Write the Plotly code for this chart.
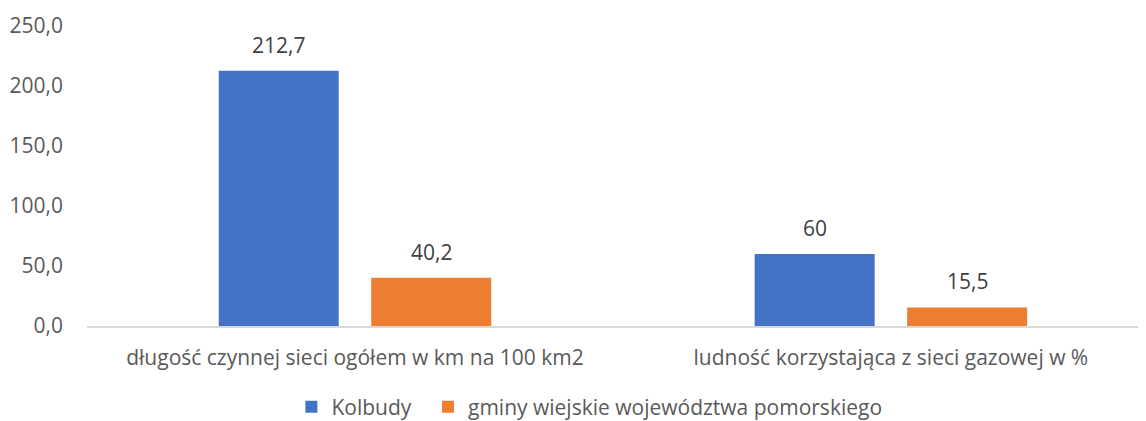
import plotly.graph_objects as go

categories = ["długość czynnej sieci ogółem w km na 100 km2",
              "ludność korzystająca z sieci gazowej w %"]
series_names = ["Kolbudy", "gminy wiejskie województwa pomorskiego"]
kolbudy = [212.7, 60]
gminy = [40.2, 15.5]
colors = ["#4472C4", "#ED7D31"]
y_ticks = [0, 50, 100, 150, 200, 250]

FONT = "Open Sans"
fs = 21
bargap = 0.431

fig = go.Figure()
for name, vals, col, lg in zip(series_names, [kolbudy, gminy], colors, ["legend", "legend2"]):
    fig.add_trace(go.Bar(x=categories, y=vals, name=name, marker_color=col,
                         marker_line_width=0, legend=lg))

# data labels above bars
offset = (1 - bargap) / 4
for s, vals in enumerate([kolbudy, gminy]):
    for i, v in enumerate(vals):
        fig.add_annotation(x=i + (-offset if s == 0 else offset), y=v, xref="x", yref="y",
                           text=f"{v:g}".replace(".", ","), showarrow=False,
                           yanchor="bottom", yshift=10,
                           font=dict(family=FONT, size=fs, color="#404040"))

leg_common = dict(orientation="h", xanchor="left", xref="paper", y=-0.202, yanchor="top",
                  font=dict(family=FONT, size=fs, color="#595959"), itemwidth=30,
                  bgcolor="rgba(0,0,0,0)")

# the page body adds an 8px margin, so the figure is sized/offset to compensate
fig.update_layout(
    width=1138, height=413,
    margin=dict(l=79, r=0, t=18, b=95, autoexpand=False),
    paper_bgcolor="white", plot_bgcolor="white",
    barmode="group", bargap=bargap, bargroupgap=0.213,
    separators=", ",
    font=dict(family=FONT, size=fs, color="#595959"),
    showlegend=True,
    legend=dict(x=0.193, **leg_common),
    legend2=dict(x=0.322, **leg_common),
)
fig.update_xaxes(type="category", range=[-0.5, 1.476], showline=True, linecolor="#D9D9D9",
                 linewidth=1.5, ticks="", ticklabelstandoff=12, showgrid=False, zeroline=False,
                 automargin=False)
fig.update_yaxes(range=[0, 250], tickvals=y_ticks, tickformat=".1f", showgrid=False,
                 zeroline=False, showline=False, ticks="", ticklabelstandoff=23,
                 automargin=False)

fig.write_html("out.html")
